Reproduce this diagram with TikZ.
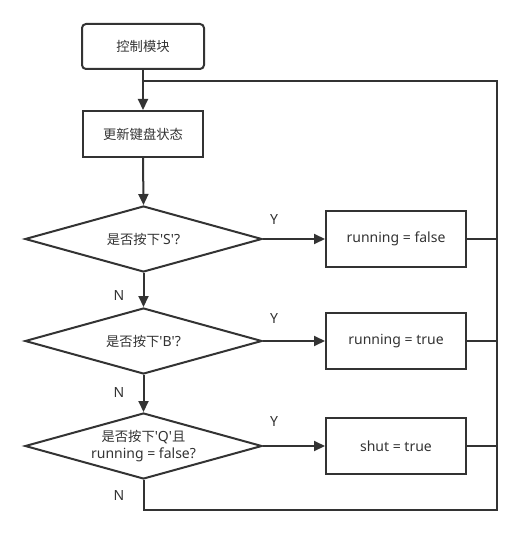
\documentclass[tikz,border=0pt]{standalone}
\usepackage{fontspec}
\newfontfamily\lat{Noto Sans}
\newfontfamily\cjk{Noto Sans CJK SC}[Scale=0.95]
\usetikzlibrary{arrows.meta,shapes.geometric}
\definecolor{ink}{HTML}{333333}
\tikzset{
  every node/.style={text=ink,font=\lat\fontsize{10.5}{13}\selectfont},
  procbox/.style={draw=ink,line width=1.5pt,rectangle,inner sep=0pt,align=center},
  decision/.style={draw=ink,line width=1.5pt,diamond,aspect=3.6,inner sep=0pt,
    minimum width=177.75pt,minimum height=49.5pt,align=center},
  conn/.style={draw=ink,line width=1.5pt},
  arr/.style={conn,-{Triangle[length=8.25pt,width=7.5pt]}},
  lbl/.style={inner sep=0pt}
}
\begin{document}
\begin{tikzpicture}[x=0.75pt,y=-0.75pt]
\useasboundingbox (0,0) rectangle (521,538);
\node[procbox,rounded corners=3pt,minimum width=91.5pt,minimum height=33.75pt] (start) at (143,46.5) {\cjk 控制模块};
\node[procbox,minimum width=90pt,minimum height=34.5pt] (upd) at (143,134) {\cjk 更新键盘状态};
\node[decision] (d1) at (143.5,239) {{\cjk 是否按下}'S'?};
\node[decision] (d2) at (143.5,341) {{\cjk 是否按下}'B'?};
\node[decision] (d3) at (143.5,446) {{\cjk 是否按下}'Q'{\cjk 且}\\running = false?};
\node[procbox,minimum width=105pt,minimum height=42pt] (b1) at (396,239) {running = false};
\node[procbox,minimum width=105pt,minimum height=42pt] (b2) at (396,341) {running = true};
\node[procbox,minimum width=105pt,minimum height=42pt] (b3) at (396,446) {shut = true};
\coordinate (j) at (143.5,81);
\coordinate (br) at (497,510);
\draw[arr] (start.south) -- (upd.north);
\draw[arr] (upd.south) -- (d1.north);
\draw[arr] (d1.south) -- (d2.north);
\draw[arr] (d2.south) -- (d3.north);
\draw[arr] (d1.east) -- (b1.west);
\draw[arr] (d2.east) -- (b2.west);
\draw[arr] (d3.east) -- (b3.west);
\draw[conn] (b1.east) -- (b1.east -| br);
\draw[conn] (b2.east) -- (b2.east -| br);
\draw[conn] (b3.east) -- (b3.east -| br);
\draw[conn] (d3.south) |- (br) |- (j);
\node[lbl] at (274,220) {Y};
\node[lbl] at (274,318) {Y};
\node[lbl] at (274,421) {Y};
\node[lbl] at (119,295) {N};
\node[lbl] at (119,392) {N};
\node[lbl] at (119,495) {N};
\end{tikzpicture}
\end{document}
